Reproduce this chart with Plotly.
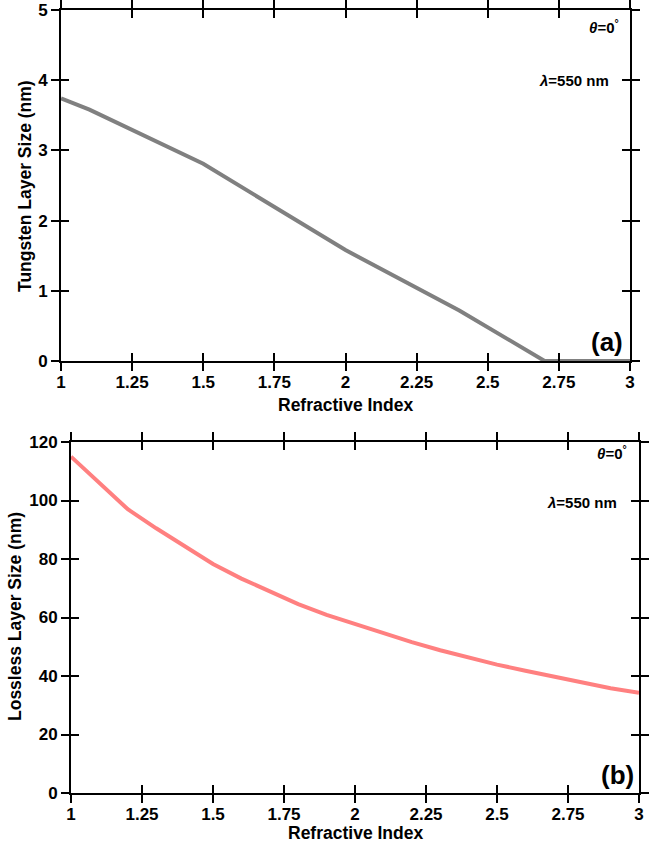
import plotly.graph_objects as go

# ---- data ----
x_top = [1.0, 1.1, 1.5, 2.0, 2.4, 2.7, 3.0]
y_top = [3.74, 3.58, 2.81, 1.58, 0.72, 0.0, 0.0]

x_bot = [1.0, 1.1, 1.2, 1.3, 1.4, 1.5, 1.6, 1.7, 1.8, 1.9, 2.0,
         2.1, 2.2, 2.3, 2.4, 2.5, 2.6, 2.7, 2.8, 2.9, 3.0]
y_bot = [115, 106, 97, 90.5, 84.3, 78.3, 73.3, 68.8, 64.6, 60.9, 57.7,
         54.6, 51.6, 48.8, 46.2, 43.9, 41.8, 39.7, 37.6, 35.8, 34.3]

x_ticks = [1, 1.25, 1.5, 1.75, 2, 2.25, 2.5, 2.75, 3]
x_ticklabels = ["1", "1.25", "1.5", "1.75", "2", "2.25", "2.5", "2.75", "3"]
y_ticks_top = [0, 1, 2, 3, 4, 5]
y_ticks_bot = [0, 20, 40, 60, 80, 100, 120]

W, H = 658, 850
FONT = "Liberation Sans"

def px(x):
    return x / W

def py(y):
    return 1 - y / H

fig = go.Figure()
fig.add_trace(go.Scatter(x=x_top, y=y_top, mode="lines",
                         line=dict(color="#808080", width=4),
                         xaxis="x", yaxis="y", showlegend=False))
fig.add_trace(go.Scatter(x=x_bot, y=y_bot, mode="lines",
                         line=dict(color="#ff8080", width=4),
                         xaxis="x2", yaxis="y2", showlegend=False))
# invisible traces to hold the overlay (inside tick) axes
fig.add_trace(go.Scatter(x=x_top, y=y_top, mode="lines", line=dict(width=0),
                         opacity=0, xaxis="x3", yaxis="y3", showlegend=False, hoverinfo="skip"))
fig.add_trace(go.Scatter(x=x_bot, y=y_bot, mode="lines", line=dict(width=0),
                         opacity=0, xaxis="x4", yaxis="y4", showlegend=False, hoverinfo="skip"))

tickfont = dict(family=FONT, size=17, color="black", weight="bold")

dom_top_x = [px(61), px(630)]
dom_bot_x = [px(71), px(639)]
dom_top_y = [py(361), py(10)]
dom_bot_y = [py(793), py(442)]

common_x = dict(range=[1, 3], tickvals=x_ticks, ticktext=x_ticklabels,
                showline=True, linecolor="black", linewidth=2,
                tickcolor="black", tickwidth=1.5, ticklen=8,
                showgrid=False, zeroline=False, mirror="ticks", automargin=False)

common_y = dict(showline=True, linecolor="black", linewidth=2,
                tickcolor="black", tickwidth=1.5, ticklen=8, mirror="ticks",
                showgrid=False, zeroline=False, automargin=False)

fig.update_layout(
    width=W, height=H,
    margin=dict(l=0, r=0, t=0, b=0, autoexpand=False),
    paper_bgcolor="white", plot_bgcolor="white",
    xaxis=dict(**common_x, domain=dom_top_x, anchor="y", ticks="outside",
               tickfont=tickfont, ticklabelstandoff=-3),
    yaxis=dict(**common_y, range=[0, 5], tickvals=y_ticks_top, domain=dom_top_y,
               anchor="x", ticks="outside", tickfont=tickfont),
    xaxis3=dict(**common_x, overlaying="x", anchor="y3", ticks="inside",
                showticklabels=False),
    yaxis3=dict(**common_y, range=[0, 5], tickvals=y_ticks_top, overlaying="y",
                anchor="x3", ticks="inside", showticklabels=False),
    xaxis2=dict(**common_x, domain=dom_bot_x, anchor="y2", ticks="outside",
                tickfont=tickfont, ticklabelstandoff=-3),
    yaxis2=dict(**common_y, range=[0, 120], tickvals=y_ticks_bot, domain=dom_bot_y,
                anchor="x2", ticks="outside", tickfont=tickfont),
    xaxis4=dict(**common_x, overlaying="x2", anchor="y4", ticks="inside",
                showticklabels=False),
    yaxis4=dict(**common_y, range=[0, 120], tickvals=y_ticks_bot, overlaying="y2",
                anchor="x4", ticks="inside", showticklabels=False),
)

def ann(text, x, y, size, xanchor="center", textangle=0):
    fig.add_annotation(text=text, x=px(x), y=py(y), xref="paper", yref="paper",
                       showarrow=False, xanchor=xanchor, yanchor="middle",
                       textangle=textangle,
                       font=dict(family=FONT, size=size, color="black", weight="bold"))

# axis titles
ann("Refractive Index", 345.5, 405, 17.5)
ann("Refractive Index", 355, 833, 17.5)
ann("Tungsten Layer Size (nm)", 25, 186, 17.5, textangle=-90)
ann("Lossless Layer Size (nm)", 15, 617, 17.5, textangle=-90)

# panel notes
ann("<i>θ</i>=0<sup>°</sup>", 621, 26, 15, xanchor="right")
ann("<i>λ</i>=550 nm", 611, 80, 15, xanchor="right")
ann("<i>θ</i>=0<sup>°</sup>", 629, 452, 15, xanchor="right")
ann("<i>λ</i>=550 nm", 619, 502, 15, xanchor="right")

ann("(a)", 607, 342, 26)
ann("(b)", 617, 775, 26)

fig.write_html("out.html",
               config={"displayModeBar": False},
               post_script="document.body.style.margin='0';document.body.style.overflow='hidden';")
